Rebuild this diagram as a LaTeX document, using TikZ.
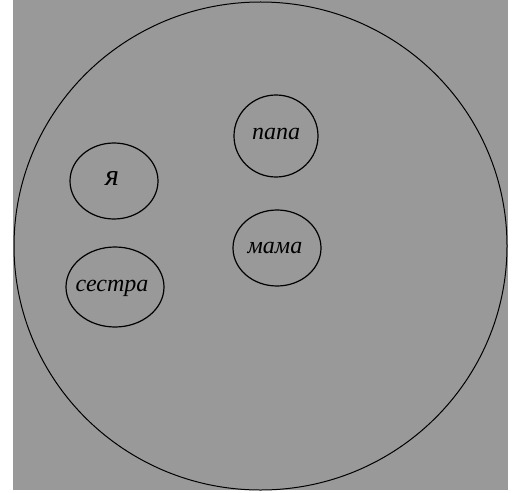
\documentclass[tikz,border=0pt]{standalone}
\usepackage{fontspec}
\setmainfont{Liberation Serif}
\begin{document}
\begin{tikzpicture}[x=1pt,y=-1pt,
  ring/.style={line width=1.2pt},
  word/.style={font=\itshape\fontsize{24}{26}\selectfont}]
\useasboundingbox (0,0) rectangle (516,492);
\fill[white] (0,0) rectangle (516,492);
\fill[fill={rgb,255:red,153;green,153;blue,153}] (13,0) rectangle (508,490);
\draw[line width=1pt] (260.5,246) ellipse [x radius=246.5, y radius=244];
\draw[ring] (114,181) ellipse [x radius=44, y radius=38];
\draw[ring] (115,287) ellipse [x radius=49, y radius=40];
\draw[ring] (276,136) ellipse [x radius=42, y radius=41];
\draw[ring] (277,248) ellipse [x radius=44, y radius=38];
\node[word,font=\itshape\fontsize{30}{32}\selectfont] (ya) at (112,178) {я};
\node[word] (sestra) at (112,288) {сестра};
\node[word] (papa) at (276,134) {папа};
\node[word] (mama) at (275,248) {мама};
\end{tikzpicture}
\end{document}
